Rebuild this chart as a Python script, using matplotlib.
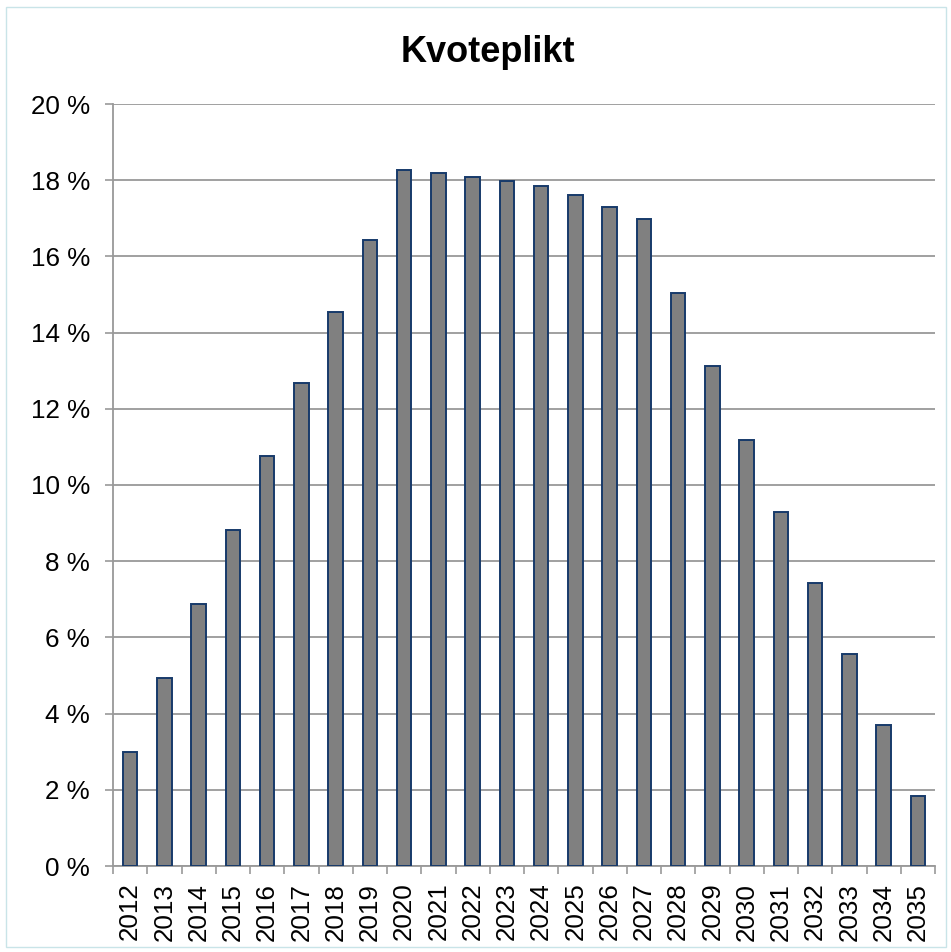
import matplotlib
matplotlib.use("Agg")
import matplotlib.pyplot as plt
from matplotlib.ticker import FuncFormatter, FixedLocator
from matplotlib.patches import Rectangle

years = [str(y) for y in range(2012, 2036)]
values = [3.00, 4.93, 6.88, 8.82, 10.76, 12.68, 14.55, 16.43, 18.27, 18.18,
          18.08, 17.98, 17.86, 17.61, 17.29, 16.97, 15.03, 13.12, 11.18, 9.30,
          7.43, 5.56, 3.70, 1.85]
yticks = [0, 2, 4, 6, 8, 10, 12, 14, 16, 18, 20]
title = "Kvoteplikt"

plt.rcParams['font.family'] = ['Liberation Sans', 'DejaVu Sans']

W, H = 951, 952
fig = plt.figure(figsize=(W / 100, H / 100), dpi=100)
fig.patch.set_facecolor('white')

# outer chart border
fig.patches.append(Rectangle((6 / W, 1 - 947 / H), (946 - 6) / W, (947 - 7) / H,
                             transform=fig.transFigure, fill=False,
                             edgecolor='#c9e4e8', linewidth=1.0))

left, right, top, bottom = 113, 935, 104, 866
ax = fig.add_axes([left / W, 1 - bottom / H, (right - left) / W, (bottom - top) / H])

x = list(range(len(years)))
ax.bar(x, values, width=0.42, color='#808080', edgecolor='#173a6a',
       linewidth=1.4, zorder=3)

ax.set_xlim(-0.5, len(years) - 0.5)
ax.set_ylim(0, 20)
ax.set_yticks(yticks)
ax.yaxis.set_major_formatter(FuncFormatter(lambda v, p: f"{int(round(v))} %"))
ax.grid(axis='y', color='#999999', linewidth=1.3, zorder=0)
ax.set_axisbelow(True)

ax.set_xticks(x)
ax.set_xticklabels(years, rotation=90)
ax.xaxis.set_minor_locator(FixedLocator([i - 0.5 for i in range(len(years) + 1)]))
ax.tick_params(axis='x', which='major', length=0, pad=12, labelsize=18.7)
ax.tick_params(axis='x', which='minor', length=5.5, width=1.2, color='#999999')
ax.tick_params(axis='y', which='major', length=5.5, width=1.2, color='#999999',
               pad=11, labelsize=18.7)

for s in ['top', 'right']:
    ax.spines[s].set_visible(False)
for s in ['left', 'bottom']:
    ax.spines[s].set_color('#999999')
    ax.spines[s].set_linewidth(1.3)

fig.text((398 + 578) / 2 / W, 1 - 52 / H, title, ha='center', va='center',
         fontsize=26, fontweight='bold')

fig.savefig('out.png', dpi=100, facecolor='white')
